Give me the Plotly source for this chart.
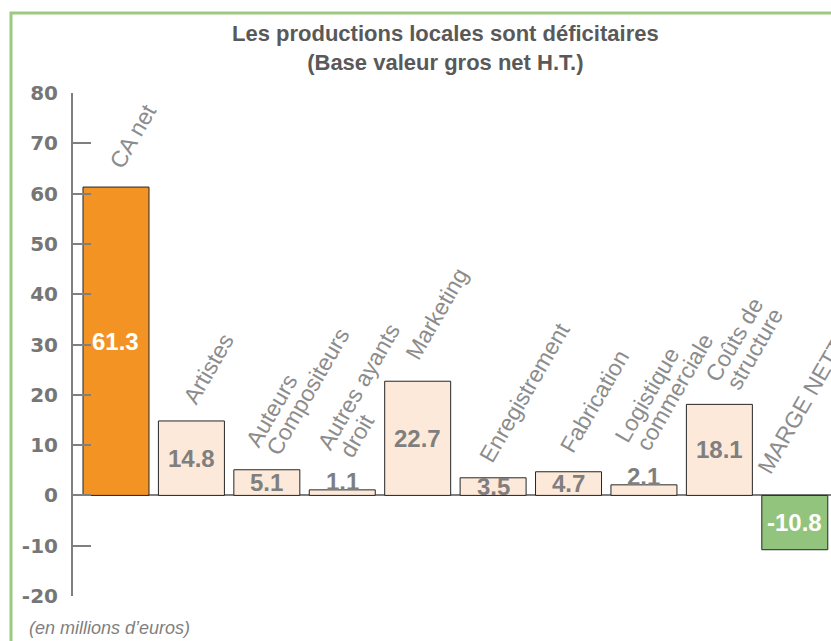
import plotly.graph_objects as go

categories = ["CA net", "Artistes", "Auteurs<br>Compositeurs", "Autres ayants<br>droit",
              "Marketing", "Enregistrement", "Fabrication", "Logistique<br>commerciale",
              "Coûts de<br>structure", "MARGE NETTE"]
values = [61.3, 14.8, 5.1, 1.1, 22.7, 3.5, 4.7, 2.1, 18.1, -10.8]
y_ticks = [-20, -10, 0, 10, 20, 30, 40, 50, 60, 70, 80]
y_tick_labels = ["-20", "-10", "0", "10", "20", "30", "40", "50", "60", "70", "80"]
title_lines = ["Les productions locales sont déficitaires", "(Base valeur gros net H.T.)"]
unit_note = "(en millions d’euros)"

# label placement (pixel offsets of first text line start from bar centre / bar top)
label_offsets = [(-3, -20), (-5, -18), (-18, -24), (-21, -42), (-9, -23),
                 (-10, -17), (-5, -21), (-26, -44), (-11, -24), (-34, -23)]
LINE_STEP = (21.5, 8)   # offset of 2nd line start (px)

ORANGE = "#F39323"
PEACH = "#FDE9D9"
GREEN = "#93C47D"
GRAY = "#7F7F7F"
FONT = "Liberation Sans, Arial, sans-serif"
LABEL_SIZE = 23
BOX_H = 27
DESC = 6
CAL_X, CAL_Y = 8, -4

L, R, T, B = 73, 0, 93, 45
W, H = 831, 641
pw, ph = W - L - R, H - T - B


def px_to_paper(px, py):
    return (px - L) / pw, 1 - (py - T) / ph


colors = []
for i, v in enumerate(values):
    if i == 0:
        colors.append(ORANGE)
    elif v < 0:
        colors.append(GREEN)
    else:
        colors.append(PEACH)

x = list(range(len(categories)))

fig = go.Figure()
fig.add_trace(go.Bar(
    x=x, y=values, width=0.875,
    marker=dict(color=colors, line=dict(color="#262626", width=1)),
    hoverinfo="skip",
))

annotations = []
# value labels
for i, v in enumerate(values):
    white = (i == 0) or v < 0
    txt = f"{v:.1f}"
    if 0 <= v < 3:
        annotations.append(dict(x=i, y=v, xref="x", yref="y", text=txt, showarrow=False,
                                yanchor="bottom", yshift=-7,
                                font=dict(family=FONT, size=24, color=GRAY, weight="bold")))
    else:
        annotations.append(dict(x=i, y=v / 2, xref="x", yref="y", text=txt, showarrow=False,
                                yanchor="middle",
                                font=dict(family=FONT, size=24,
                                          color="white" if white else GRAY, weight="bold")))
# category labels, one annotation per text line
for i, (c, v) in enumerate(zip(categories, values)):
    dx, dy = label_offsets[i]
    for k, line in enumerate(c.split("<br>")):
        lx = dx + k * LINE_STEP[0]
        ly = dy + k * LINE_STEP[1]
        xs = lx + 0.866 * (DESC - BOX_H) + CAL_X
        ys = -(ly + 0.5 * DESC) + CAL_Y
        annotations.append(dict(x=i, y=max(v, 0), xref="x", yref="y", text=line,
                                showarrow=False, textangle=-60, xanchor="left",
                                yanchor="bottom", xshift=xs, yshift=ys, borderpad=0,
                                font=dict(family=FONT, size=LABEL_SIZE, color="#8C8C8C")))
# title
tx, ty = px_to_paper(445, 48)
annotations.append(dict(x=tx, y=ty, xref="paper", yref="paper",
                        text=title_lines[0] + "<br>" + title_lines[1], showarrow=False,
                        xanchor="center", yanchor="middle",
                        font=dict(family="Liberation Sans Narrow, Arial Narrow, Liberation Sans, sans-serif",
                                  size=22, color="#595959", weight="bold")))
# unit note
nx, ny = px_to_paper(27, 628)
annotations.append(dict(x=nx, y=ny, xref="paper", yref="paper", text=unit_note, showarrow=False,
                        xanchor="left", yanchor="middle",
                        font=dict(family=FONT, size=18, color=GRAY, style="italic")))

fx0, fy0 = px_to_paper(11, 13)
fx1, fy1 = px_to_paper(900, 700)

fig.update_layout(
    annotations=annotations,
    width=W, height=H,
    margin=dict(l=L, r=R, t=T, b=B, pad=0),
    paper_bgcolor="white", plot_bgcolor="white",
    showlegend=False,
    bargap=0.125,
    xaxis=dict(range=[-0.57, 9.48], visible=False, fixedrange=True),
    yaxis=dict(range=[-20, 80], tickvals=y_ticks, ticktext=y_tick_labels,
               ticks="inside", ticklen=18, tickwidth=2,
               tickcolor=GRAY, showline=True, linecolor=GRAY, linewidth=2, showgrid=False,
               zeroline=True, zerolinecolor=GRAY, zerolinewidth=2,
               tickfont=dict(family="DejaVu Sans, sans-serif", size=20, color="#767676",
                             weight="bold"),
               ticklabelstandoff=9, fixedrange=True),
    shapes=[dict(type="rect", xref="paper", yref="paper", x0=fx0, y0=fy1, x1=fx1, y1=fy0,
                 line=dict(color="#9CC97F", width=3), layer="below")],
)

fig.write_html("out.html", config={"displayModeBar": False},
               post_script="document.body.style.margin='0';document.body.style.overflow='hidden';")
